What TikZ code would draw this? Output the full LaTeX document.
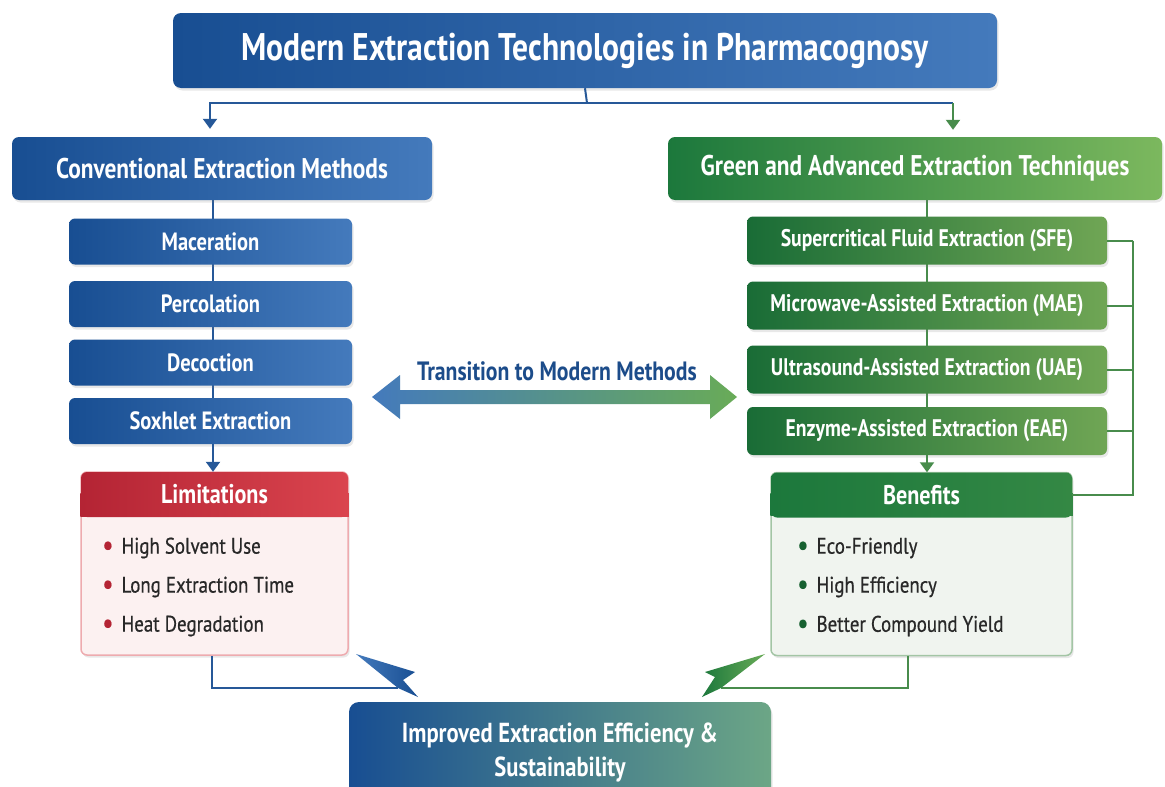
\documentclass[tikz,border=0pt]{standalone}
\usepackage{fontspec}
\setmainfont{PT Sans}[FakeStretch=0.82]
\newfontfamily\itemfont{PT Sans}[FakeStretch=0.84, FakeBold=0.6]
\usepackage{xcolor}
\usepackage{tikz}
\usetikzlibrary{shapes.geometric, arrows, positioning, shadows}
\definecolor{myblue}{RGB}{24,78,146}
\definecolor{mybluelt}{RGB}{68,122,188}
\definecolor{mygreen}{RGB}{28,120,60}
\definecolor{mygreenlt}{RGB}{124,184,94}
\definecolor{myred}{RGB}{180,36,52}
\definecolor{myredlt}{RGB}{218,68,78}
\definecolor{mypink}{RGB}{252,241,241}
\definecolor{mysage}{RGB}{240,244,239}
\definecolor{myline}{RGB}{38,88,152}
\definecolor{mylineg}{RGB}{72,140,76}
\definecolor{mytext}{RGB}{40,40,40}
\definecolor{mylabel}{RGB}{28,76,138}
\definecolor{myteal}{RGB}{108,166,134}
\usetikzlibrary{arrows.meta, calc, fit, backgrounds}
\tikzstyle{soft} = [drop shadow={opacity=0.18, shadow xshift=1.5pt, shadow yshift=-2.5pt}]
\tikzstyle{titlebox} = [rounded corners=8pt, left color=myblue, right color=mybluelt, text=white, minimum width=824pt, minimum height=75pt, font=\fontsize{38.5}{44}\selectfont\bfseries, soft]
\tikzstyle{bluehead} = [rounded corners=7pt, left color=myblue, right color=mybluelt, text=white, minimum width=420pt, minimum height=63pt, font=\fontsize{28.5}{32}\selectfont\bfseries, soft]
\tikzstyle{greenhead} = [rounded corners=7pt, left color=mygreen, right color=mygreenlt, text=white, minimum width=494pt, minimum height=63pt, font=\fontsize{28.5}{32}\selectfont\bfseries, soft]
\tikzstyle{bluestep} = [rounded corners=6pt, left color=myblue, right color=mybluelt, text=white, minimum width=283pt, minimum height=46pt, font=\fontsize{25}{28}\selectfont\bfseries, soft]
\tikzstyle{greenstep} = [rounded corners=6pt, left color=mygreen!90!black, right color=mygreenlt!90!black, text=white, minimum width=360pt, minimum height=48pt, font=\fontsize{24}{28}\selectfont\bfseries, soft]
\tikzstyle{conn} = [line width=2pt, draw=myline]
\tikzstyle{conng} = [line width=2pt, draw=mylineg]
\tikzstyle{arrowb} = [conn, -{Triangle[width=14pt,length=10pt]}]
\tikzstyle{arrowg} = [conng, -{Triangle[width=14pt,length=10pt]}]

\begin{document}
\begin{tikzpicture}[x=1pt, y=-1pt, item/.style={anchor=west, text=mytext, inner sep=0pt, font=\fontsize{22.5}{26}\itemfont}, panel/.style={rounded corners=6pt, line width=1.5pt, minimum height=183pt, soft}, panelhead/.style={rounded corners=6pt, text=white, minimum height=45pt, font=\fontsize{27}{30}\selectfont\bfseries}]
    \useasboundingbox (0,0) rectangle (1165,787);

    \node[titlebox] (title) at (585,50.5) {Modern Extraction Technologies in Pharmacognosy};
    \node[bluehead] (conv) at (222,168.5) {Conventional Extraction Methods};
    \node[greenhead] (adv) at (915,168.5) {Green and Advanced Extraction Techniques};

    \foreach \n/\t/\y in {mac/Maceration/241.5, perc/Percolation/304, dec/Decoction/362.5, sox/Soxhlet Extraction/421}
        \node[bluestep] (\n) at (210.5,\y) {\t};
    \foreach \n/\t/\y in {sfe/Supercritical Fluid Extraction (SFE)/240.5, mae/Microwave-Assisted Extraction (MAE)/305.5, uae/Ultrasound-Assisted Extraction (UAE)/369.5, eae/Enzyme-Assisted Extraction (EAE)/431}
        \node[greenstep] (\n) at (927,\y) {\t};

    % limitations panel
    \node[panel, draw=myredlt!45, fill=mypink, minimum width=267pt] (limbody) at (214.5,563.5) {};
    \shade[left color=myred, right color=myredlt] ($(limbody.north west)+(0,22)$) rectangle ($(limbody.north east)+(0,45)$);
    \node[panelhead, left color=myred, right color=myredlt, minimum width=267pt] (limhead) at (214.5,494.5) {Limitations};
    \foreach \t [count=\i] in {High Solvent Use, Long Extraction Time, Heat Degradation}
        \node[item] (lim\i) at (102,509+39*\i) {\textcolor{myred}{\raisebox{-1.5pt}{\fontsize{30}{26}\selectfont\textbullet}}\hspace{8pt}\t};

    % benefits panel
    \node[panel, draw=mylineg!50, fill=mysage, minimum width=301pt] (benbody) at (921.5,564) {};
    \shade[left color=mygreen, right color=mygreen!75!mygreenlt] ($(benbody.north west)+(0,22)$) rectangle ($(benbody.north east)+(0,44)$);
    \node[panelhead, left color=mygreen, right color=mygreen!75!mygreenlt, minimum width=301pt] (benhead) at (921.5,495) {Benefits};
    \foreach \t [count=\i] in {Eco-Friendly, High Efficiency, Better Compound Yield}
        \node[item] (ben\i) at (797,509+39*\i) {\textcolor{mygreen!80!black}{\raisebox{-1.5pt}{\fontsize{30}{26}\selectfont\textbullet}}\hspace{8pt}\t};

    \node[rounded corners=10pt, left color=myblue, middle color=mybluelt!90!myblue, right color=myteal, text=white, minimum width=422pt, minimum height=100pt, align=center, font=\fontsize{27.5}{34}\selectfont\bfseries, soft] (goal) at (560,752) {Improved Extraction Efficiency \&\\Sustainability};

    % transition arrow
    \node[text=mylabel, font=\fontsize{26.5}{30}\selectfont\bfseries] (trans) at (557,371) {Transition to Modern Methods};
    \shade[left color=mybluelt, right color=mygreenlt!80!mygreen] (372,397) -- (400,375) -- (400,390) -- (710,390) -- (710,375) -- (737,397) -- (710,419) -- (710,404) -- (400,404) -- (400,419) -- cycle;

    % connectors
    \coordinate (fork) at (587,103);
    \coordinate (dropr) at ([xshift=38pt]adv.north |- fork);
    \draw[conn] (title.south) -- (fork);
    \draw[arrowb, shorten >=8pt] (fork) -| ([xshift=-12pt]conv.north);
    \draw[conn] (fork) -- (dropr);
    \draw[arrowg, shorten >=7pt] (dropr) -- ([xshift=38pt]adv.north);
    \begin{scope}[on background layer]
        \fill[white] (0,0) rectangle (1165,787);
        \draw[conn] (conv.south -| mac.north) ++(2.5,0) -- ($(sox.center)+(2.5,0)$);
        \draw[conng] (adv.south -| sfe.north) -- (eae.center);
    \end{scope}
    \draw[arrowb] ($(sox.south)+(2.5,0)$) -- (limhead.north -| {$(sox.south)+(2.5,0)$});
    \draw[arrowg] (eae.south) -- (benhead.north -| eae.south);

    \coordinate (rail) at (1133,240.5);
    \foreach \n in {sfe,mae,uae,eae}
        \draw[conng] (\n.east) -- (\n.east -| rail);
    \draw[conng] (rail) |- (benhead.east);

    % bolts into the result box
    \coordinate (boltl) at (398,688);
    \coordinate (boltr) at (721,688);
    \draw[conn] ([xshift=-3pt]limbody.south) |- (boltl);
    \draw[conng] ([xshift=-14pt]benbody.south) |- (boltr);
    \shade[left color=mybluelt, right color=myblue] (356,654) -- (415,672) -- (403,680) -- (418,697) -- (boltl) -- cycle;
    \shade[left color=mygreen, right color=mygreenlt!80!mygreen] (765,654) -- (705,672) -- (715,677) -- (702,697) -- (boltr) -- cycle;
\end{tikzpicture}
\end{document}
